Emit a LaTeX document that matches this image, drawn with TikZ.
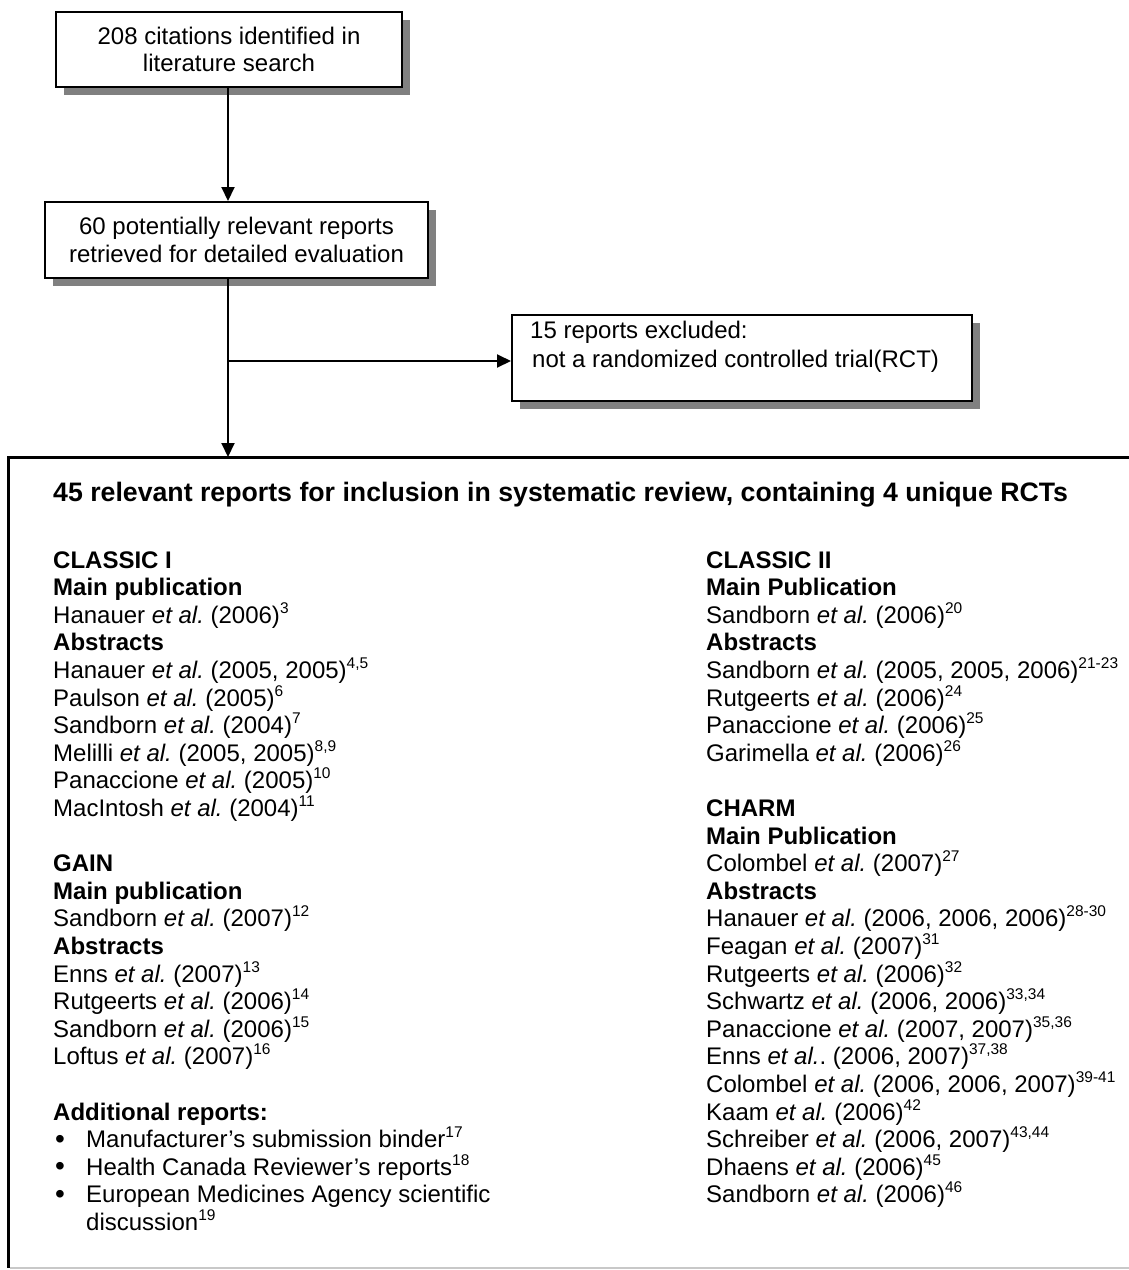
\documentclass[tikz,border=0pt]{standalone}
\usepackage{fontspec}
\setmainfont{Liberation Sans}
\usetikzlibrary{arrows.meta,shadows}
\definecolor{shadowgray}{HTML}{808080}
\definecolor{bottomgray}{HTML}{C8C8C8}
\newcommand\sref[1]{\raisebox{10pt}{\fontsize{15.5}{16}\selectfont #1}}
\newcommand\etal{\textit{et al.}}
\newcommand\bul{\hbox to 33pt{\hspace{2pt}\raisebox{-0.5pt}{\fontsize{28}{28}\selectfont\textbullet}\hfil}}
\tikzset{
  box/.style={draw=black, line width=2pt, fill=white, rectangle, inner sep=0pt,
    align=center, font=\fontsize{24}{27.6}\selectfont,
    drop shadow={shadow xshift=8pt, shadow yshift=-8pt, fill=shadowgray, opacity=1}},
  conn/.style={line width=2pt, -{Triangle[length=14pt,width=13pt]}},
  col/.style={anchor=base west, inner sep=0pt},
}
\frenchspacing
\begin{document}
\frenchspacing
\begin{tikzpicture}[x=1pt,y=-1pt]
\useasboundingbox (0,0) rectangle (1129,1270);
% spine coordinate
\coordinate (spine) at (228,0);
% boxes
\node[box, minimum width=346pt, minimum height=75pt] (box1) at (229,49.5)
  {208 citations identified in\\literature search};
\node[box, minimum width=383pt, minimum height=76pt] (box2) at (236.5,240)
  {60 potentially relevant reports\\retrieved for detailed evaluation};
\node[box, minimum width=460pt, minimum height=86pt] (box3) at (742,358) {};
\node[col] (box3text) at (530,338)
  {\parbox[t]{420pt}{\fontsize{24}{29}\selectfont 15 reports excluded:\\\hspace*{2pt}not a randomized controlled trial(RCT)}};
% big box
\node[anchor=north west, inner sep=0pt, minimum width=1140pt, minimum height=811pt] (big) at (8,457) {};
\draw[line width=3pt] (big.north east) -- (big.north west) -- (big.south west);
\draw[line width=2pt, bottomgray] ([xshift=2pt]big.south west) -- (big.south east);
% connectors
\draw[conn] (box1.south -| spine) -- (box2.north -| spine);
\coordinate (branch) at (228,361);
\draw[line width=2pt] (box2.south -| spine) -- (branch);
\draw[conn] (branch) -- (big.north -| spine);
\draw[conn] (branch) -- (branch -| box3.west);
% title
\node[col, font=\fontsize{26.7}{30}\selectfont\bfseries] (title) at (53,501)
  {45 relevant reports for inclusion in systematic review, containing 4 unique RCTs};
% left column
\node[col] (leftcol) at (53,568) {\parbox[t]{640pt}{\fontsize{24}{27.6}\selectfont\lineskiplimit=-50pt
\textbf{CLASSIC I}\\
\textbf{Main publication}\\
Hanauer \etal{} (2006)\sref{3}\\
\textbf{Abstracts}\\
Hanauer \etal{} (2005, 2005)\sref{4,5}\\
Paulson \etal{} (2005)\sref{6}\\
Sandborn \etal{} (2004)\sref{7}\\
Melilli \etal{} (2005, 2005)\sref{8,9}\\
Panaccione \etal{} (2005)\sref{10}\\
MacIntosh \etal{} (2004)\sref{11}\\
\mbox{}\\
\textbf{GAIN}\\
\textbf{Main publication}\\
Sandborn \etal{} (2007)\sref{12}\\
\textbf{Abstracts}\\
Enns \etal{} (2007)\sref{13}\\
Rutgeerts \etal{} (2006)\sref{14}\\
Sandborn \etal{} (2006)\sref{15}\\
Loftus \etal{} (2007)\sref{16}\\
\mbox{}\\
\textbf{Additional reports:}\\
\bul Manufacturer’s submission binder\sref{17}\\
\bul Health Canada Reviewer’s reports\sref{18}\\
\bul European Medicines Agency scientific\\
\hspace*{33pt}discussion\sref{19}}};
% right column
\node[col] (rightcol) at (706,568) {\parbox[t]{420pt}{\fontsize{24}{27.6}\selectfont\lineskiplimit=-50pt
\textbf{CLASSIC II}\\
\textbf{Main Publication}\\
Sandborn \etal{} (2006)\sref{20}\\
\textbf{Abstracts}\\
Sandborn \etal{} (2005, 2005, 2006)\sref{21-23}\\
Rutgeerts \etal{} (2006)\sref{24}\\
Panaccione \etal{} (2006)\sref{25}\\
Garimella \etal{} (2006)\sref{26}\\
\mbox{}\\
\textbf{CHARM}\\
\textbf{Main Publication}\\
Colombel \etal{} (2007)\sref{27}\\
\textbf{Abstracts}\\
Hanauer \etal{} (2006, 2006, 2006)\sref{28-30}\\
Feagan \etal{} (2007)\sref{31}\\
Rutgeerts \etal{} (2006)\sref{32}\\
Schwartz \etal{} (2006, 2006)\sref{33,34}\\
Panaccione \etal{} (2007, 2007)\sref{35,36}\\
Enns \etal. (2006, 2007)\sref{37,38}\\
Colombel \etal{} (2006, 2006, 2007)\sref{39-41}\\
Kaam \etal{} (2006)\sref{42}\\
Schreiber \etal{} (2006, 2007)\sref{43,44}\\
Dhaens \etal{} (2006)\sref{45}\\
Sandborn \etal{} (2006)\sref{46}}};
\end{tikzpicture}
\end{document}
